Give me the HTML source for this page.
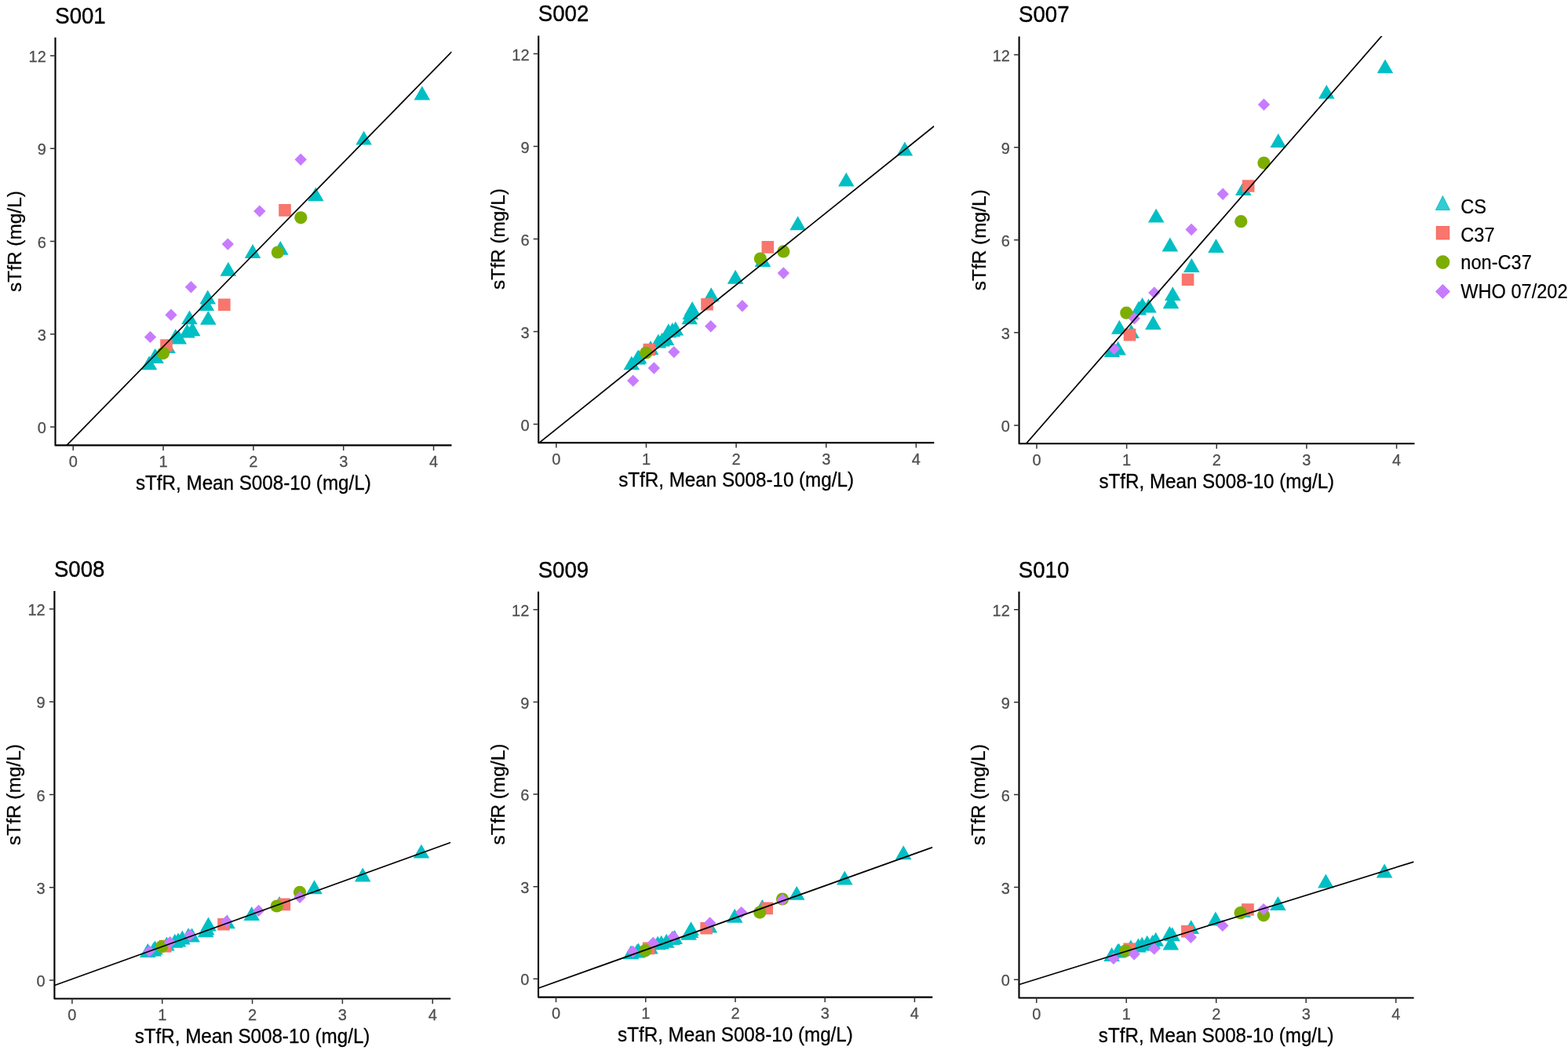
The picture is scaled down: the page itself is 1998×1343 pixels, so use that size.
<!DOCTYPE html>
<html><head><meta charset="utf-8"><title>sTfR comparison</title>
<style>html,body{margin:0;padding:0;background:#fff;}svg{display:block;}text{font-family:'Liberation Sans', Arial, Helvetica, sans-serif;}</style></head><body>
<svg width="1998" height="1343" viewBox="0 0 1998 1343">
<rect x="0" y="0" width="1998" height="1343" fill="#ffffff"/>
<g id="panel-S001">
<defs><clipPath id="clip0"><rect x="70.23" y="47.35" width="505.25" height="520.41"/></clipPath></defs>
<g clip-path="url(#clip0)">
<path fill="#00BFC4" d="M190 453.4L200.3 471.3L179.7 471.3ZM197.5 444.1L207.8 462L187.2 462ZM198.6 445.1L208.9 463L188.3 463ZM213.5 432.1L223.8 450L203.2 450ZM223.7 419.1L234 437L213.4 437ZM227.7 420.5L238 438.4L217.4 438.4ZM238.5 412.6L248.8 430.5L228.2 430.5ZM241.4 395.4L251.7 413.3L231.1 413.3ZM245.2 410.3L255.5 428.2L234.9 428.2ZM262.8 378L273.1 395.9L252.5 395.9ZM264.7 369.6L275 387.5L254.4 387.5ZM265.3 395.9L275.6 413.8L255 413.8ZM290.8 333.8L301.1 351.7L280.5 351.7ZM322 311L332.3 328.9L311.7 328.9ZM357.3 306.9L367.6 324.8L347 324.8ZM402.3 238.4L412.6 256.3L392 256.3ZM463.6 166.7L473.9 184.6L453.3 184.6ZM537.8 109.6L548.1 127.5L527.5 127.5Z"/>
<path fill="#F8766D" d="M204.2 432.2h15.6v15.6h-15.6ZM278 380.4h15.6v15.6h-15.6ZM355.2 260.1h15.6v15.6h-15.6Z"/>
<circle cx="208" cy="450.1" r="8.1" fill="#7CAE00"/>
<circle cx="353.8" cy="321.5" r="8.1" fill="#7CAE00"/>
<circle cx="383.3" cy="277.3" r="8.1" fill="#7CAE00"/>
<path fill="#C77CFF" d="M191.5 421.7L199.2 429.4L191.5 437.1L183.8 429.4ZM218 393.6L225.7 401.3L218 409L210.3 401.3ZM243.4 358.1L251.1 365.8L243.4 373.5L235.7 365.8ZM290.3 303.4L298 311.1L290.3 318.8L282.6 311.1ZM330.8 261.4L338.5 269.1L330.8 276.8L323.1 269.1ZM383.2 195.5L390.9 203.2L383.2 210.9L375.5 203.2Z"/>
<line x1="70.23" y1="582.48" x2="575.49" y2="66.06" stroke="#000" stroke-width="1.7"/>
</g>
<path d="M70.5 47.85V567.4H575.49" fill="none" stroke="#000" stroke-width="2.1" stroke-linecap="butt" stroke-linejoin="round"/>
<path d="M64 544.1H70.5M64 425.83H70.5M64 307.55H70.5M64 189.28H70.5M64 71H70.5M93.2 567.4V573.9M208.03 567.4V573.9M322.86 567.4V573.9M437.69 567.4V573.9M552.52 567.4V573.9" stroke="#333333" stroke-width="1.5" fill="none"/>
<g fill="#4D4D4D" stroke="#4D4D4D" stroke-width="0.25" font-size="20.0">
<text text-anchor="end" transform="translate(58.8 552.2) scale(1 1.04)">0</text>
<text text-anchor="end" transform="translate(58.8 433.93) scale(1 1.04)">3</text>
<text text-anchor="end" transform="translate(58.8 315.65) scale(1 1.04)">6</text>
<text text-anchor="end" transform="translate(58.8 197.38) scale(1 1.04)">9</text>
<text text-anchor="end" transform="translate(58.8 79.1) scale(1 1.04)">12</text>
<text text-anchor="middle" transform="translate(93.2 595.1) scale(1 1.04)">0</text>
<text text-anchor="middle" transform="translate(208.03 595.1) scale(1 1.04)">1</text>
<text text-anchor="middle" transform="translate(322.86 595.1) scale(1 1.04)">2</text>
<text text-anchor="middle" transform="translate(437.69 595.1) scale(1 1.04)">3</text>
<text text-anchor="middle" transform="translate(552.52 595.1) scale(1 1.04)">4</text>
</g>
<text font-size="27.6" fill="#000" stroke="#000" stroke-width="0.35" transform="translate(70.23 29.75) scale(1 1.1)">S001</text>
<text font-size="24.2" fill="#000" stroke="#000" stroke-width="0.3" text-anchor="middle" transform="translate(322.86 623.7) scale(1 1.04)">sTfR, Mean S008-10 (mg/L)</text>
<text font-size="24.4" fill="#000" stroke="#000" stroke-width="0.3" text-anchor="middle" transform="translate(27.4 307.55) rotate(-90) scale(1 1.0)">sTfR (mg/L)</text>
</g>
<g id="panel-S002">
<defs><clipPath id="clip1"><rect x="685.87" y="44.94" width="504.42" height="519.16"/></clipPath></defs>
<g clip-path="url(#clip1)">
<path fill="#00BFC4" d="M804.8 453.4L815.1 471.3L794.5 471.3ZM812.4 446.5L822.7 464.4L802.1 464.4ZM814 445.4L824.3 463.3L803.7 463.3ZM829 434L839.3 451.9L818.7 451.9ZM838.8 425.5L849.1 443.4L828.5 443.4ZM843.6 423.7L853.9 441.6L833.3 441.6ZM849 422.2L859.3 440.1L838.7 440.1ZM851.8 412.3L862.1 430.2L841.5 430.2ZM856.8 411L867.1 428.9L846.5 428.9ZM860.8 409.6L871.1 427.5L850.5 427.5ZM878.7 395.4L889 413.3L868.4 413.3ZM879.8 389.1L890.1 407L869.5 407ZM882.1 384.1L892.4 402L871.8 402ZM906.2 366.3L916.5 384.2L895.9 384.2ZM937.1 343.8L947.4 361.7L926.8 361.7ZM971.9 322L982.2 339.9L961.6 339.9ZM1016.6 275.3L1026.9 293.2L1006.3 293.2ZM1078.3 219.7L1088.6 237.6L1068 237.6ZM1152.9 180.6L1163.2 198.5L1142.6 198.5Z"/>
<path fill="#F8766D" d="M819.5 437.7h15.6v15.6h-15.6ZM893.2 379.9h15.6v15.6h-15.6ZM970.5 307.1h15.6v15.6h-15.6Z"/>
<circle cx="823.2" cy="449.5" r="8.1" fill="#7CAE00"/>
<circle cx="968.8" cy="329.6" r="8.1" fill="#7CAE00"/>
<circle cx="998.3" cy="320.4" r="8.1" fill="#7CAE00"/>
<path fill="#C77CFF" d="M806.7 477.4L814.4 485.1L806.7 492.8L799 485.1ZM833.3 461.3L841 469L833.3 476.7L825.6 469ZM858.8 440.9L866.5 448.6L858.8 456.3L851.1 448.6ZM905.7 408.1L913.4 415.8L905.7 423.5L898 415.8ZM945.9 382L953.6 389.7L945.9 397.4L938.2 389.7ZM998.3 340.3L1006 348L998.3 355.7L990.6 348Z"/>
<line x1="685.87" y1="565.18" x2="1190.29" y2="160.75" stroke="#000" stroke-width="1.7"/>
</g>
<path d="M686.2 45.44V564.1H1190.29" fill="none" stroke="#000" stroke-width="2.1" stroke-linecap="butt" stroke-linejoin="round"/>
<path d="M679.7 540.5H686.2M679.7 422.51H686.2M679.7 304.52H686.2M679.7 186.53H686.2M679.7 68.54H686.2M708.8 564.1V570.6M823.44 564.1V570.6M938.08 564.1V570.6M1052.72 564.1V570.6M1167.36 564.1V570.6" stroke="#333333" stroke-width="1.5" fill="none"/>
<g fill="#4D4D4D" stroke="#4D4D4D" stroke-width="0.25" font-size="20.0">
<text text-anchor="end" transform="translate(674.5 548.6) scale(1 1.04)">0</text>
<text text-anchor="end" transform="translate(674.5 430.61) scale(1 1.04)">3</text>
<text text-anchor="end" transform="translate(674.5 312.62) scale(1 1.04)">6</text>
<text text-anchor="end" transform="translate(674.5 194.63) scale(1 1.04)">9</text>
<text text-anchor="end" transform="translate(674.5 76.64) scale(1 1.04)">12</text>
<text text-anchor="middle" transform="translate(708.8 591.8) scale(1 1.04)">0</text>
<text text-anchor="middle" transform="translate(823.44 591.8) scale(1 1.04)">1</text>
<text text-anchor="middle" transform="translate(938.08 591.8) scale(1 1.04)">2</text>
<text text-anchor="middle" transform="translate(1052.72 591.8) scale(1 1.04)">3</text>
<text text-anchor="middle" transform="translate(1167.36 591.8) scale(1 1.04)">4</text>
</g>
<text font-size="27.6" fill="#000" stroke="#000" stroke-width="0.35" transform="translate(685.87 27.34) scale(1 1.1)">S002</text>
<text font-size="24.2" fill="#000" stroke="#000" stroke-width="0.3" text-anchor="middle" transform="translate(938.08 620.4) scale(1 1.04)">sTfR, Mean S008-10 (mg/L)</text>
<text font-size="24.4" fill="#000" stroke="#000" stroke-width="0.3" text-anchor="middle" transform="translate(643.1 304.52) rotate(-90) scale(1 1.0)">sTfR (mg/L)</text>
</g>
<g id="panel-S007">
<defs><clipPath id="clip2"><rect x="1298.07" y="46.09" width="504.42" height="519.42"/></clipPath></defs>
<g clip-path="url(#clip2)">
<path fill="#00BFC4" d="M1416.9 437.1L1427.2 455L1406.6 455ZM1424.6 434.7L1434.9 452.6L1414.3 452.6ZM1426.3 407.8L1436.6 425.7L1416 425.7ZM1441.5 413.2L1451.8 431.1L1431.2 431.1ZM1451 383.5L1461.3 401.4L1440.7 401.4ZM1455.6 378.9L1465.9 396.8L1445.3 396.8ZM1463.5 380.6L1473.8 398.5L1453.2 398.5ZM1469.4 402.1L1479.7 420L1459.1 420ZM1473.2 265.7L1483.5 283.6L1462.9 283.6ZM1490.9 302.5L1501.2 320.4L1480.6 320.4ZM1492 375.3L1502.3 393.2L1481.7 393.2ZM1494.3 365.2L1504.6 383.1L1484 383.1ZM1518.4 329.1L1528.7 347L1508.1 347ZM1549.5 304.2L1559.8 322.1L1539.2 322.1ZM1584.3 231L1594.6 248.9L1574 248.9ZM1628.8 170L1639.1 187.9L1618.5 187.9ZM1690.3 107.9L1700.6 125.8L1680 125.8ZM1765 75.4L1775.3 93.3L1754.7 93.3Z"/>
<path fill="#F8766D" d="M1431.8 418.8h15.6v15.6h-15.6ZM1505.8 348.4h15.6v15.6h-15.6ZM1582.9 229.2h15.6v15.6h-15.6Z"/>
<circle cx="1435.3" cy="398.7" r="8.1" fill="#7CAE00"/>
<circle cx="1581.3" cy="282.2" r="8.1" fill="#7CAE00"/>
<circle cx="1610.5" cy="207.6" r="8.1" fill="#7CAE00"/>
<path fill="#C77CFF" d="M1419.6 436.5L1427.3 444.2L1419.6 451.9L1411.9 444.2ZM1445.4 398L1453.1 405.7L1445.4 413.4L1437.7 405.7ZM1470.8 365.2L1478.5 372.9L1470.8 380.6L1463.1 372.9ZM1518.1 284.8L1525.8 292.5L1518.1 300.2L1510.4 292.5ZM1558.2 239.6L1565.9 247.3L1558.2 255L1550.5 247.3ZM1610.5 125.5L1618.2 133.2L1610.5 140.9L1602.8 133.2Z"/>
<line x1="1298.07" y1="576.17" x2="1802.49" y2="-2.11" stroke="#000" stroke-width="1.7"/>
</g>
<path d="M1298.6 46.59V565.3H1802.49" fill="none" stroke="#000" stroke-width="2.1" stroke-linecap="butt" stroke-linejoin="round"/>
<path d="M1292.1 541.9H1298.6M1292.1 423.85H1298.6M1292.1 305.8H1298.6M1292.1 187.75H1298.6M1292.1 69.7H1298.6M1321 565.3V571.8M1435.64 565.3V571.8M1550.28 565.3V571.8M1664.92 565.3V571.8M1779.56 565.3V571.8" stroke="#333333" stroke-width="1.5" fill="none"/>
<g fill="#4D4D4D" stroke="#4D4D4D" stroke-width="0.25" font-size="20.0">
<text text-anchor="end" transform="translate(1286.9 550) scale(1 1.04)">0</text>
<text text-anchor="end" transform="translate(1286.9 431.95) scale(1 1.04)">3</text>
<text text-anchor="end" transform="translate(1286.9 313.9) scale(1 1.04)">6</text>
<text text-anchor="end" transform="translate(1286.9 195.85) scale(1 1.04)">9</text>
<text text-anchor="end" transform="translate(1286.9 77.8) scale(1 1.04)">12</text>
<text text-anchor="middle" transform="translate(1321 593) scale(1 1.04)">0</text>
<text text-anchor="middle" transform="translate(1435.64 593) scale(1 1.04)">1</text>
<text text-anchor="middle" transform="translate(1550.28 593) scale(1 1.04)">2</text>
<text text-anchor="middle" transform="translate(1664.92 593) scale(1 1.04)">3</text>
<text text-anchor="middle" transform="translate(1779.56 593) scale(1 1.04)">4</text>
</g>
<text font-size="27.6" fill="#000" stroke="#000" stroke-width="0.35" transform="translate(1298.07 28.49) scale(1 1.1)">S007</text>
<text font-size="24.2" fill="#000" stroke="#000" stroke-width="0.3" text-anchor="middle" transform="translate(1550.28 621.6) scale(1 1.04)">sTfR, Mean S008-10 (mg/L)</text>
<text font-size="24.4" fill="#000" stroke="#000" stroke-width="0.3" text-anchor="middle" transform="translate(1255.5 305.8) rotate(-90) scale(1 1.0)">sTfR (mg/L)</text>
</g>
<g id="panel-S008">
<defs><clipPath id="clip3"><rect x="68.93" y="752.43" width="505.25" height="520.21"/></clipPath></defs>
<g clip-path="url(#clip3)">
<path fill="#00BFC4" d="M188.3 1202.1L198.6 1220L178 1220ZM195.7 1200.6L206 1218.5L185.4 1218.5ZM197.5 1198.6L207.8 1216.5L187.2 1216.5ZM212.4 1193.6L222.7 1211.5L202.1 1211.5ZM222.8 1189.8L233.1 1207.7L212.5 1207.7ZM227 1188.5L237.3 1206.4L216.7 1206.4ZM232.3 1185.6L242.6 1203.5L222 1203.5ZM240.1 1182.3L250.4 1200.2L229.8 1200.2ZM244.6 1182.6L254.9 1200.5L234.3 1200.5ZM262.1 1176.3L272.4 1194.2L251.8 1194.2ZM263.2 1173.7L273.5 1191.6L252.9 1191.6ZM265.5 1168.6L275.8 1186.5L255.2 1186.5ZM289.5 1165.4L299.8 1183.3L279.2 1183.3ZM320.7 1155.1L331 1173L310.4 1173ZM356 1142.1L366.3 1160L345.7 1160ZM400.5 1121.3L410.8 1139.2L390.2 1139.2ZM462.2 1105.5L472.5 1123.4L451.9 1123.4ZM536.9 1075.7L547.2 1093.6L526.6 1093.6Z"/>
<path fill="#F8766D" d="M202.9 1197.8h15.6v15.6h-15.6ZM277.2 1170h15.6v15.6h-15.6ZM354.5 1144.6h15.6v15.6h-15.6Z"/>
<circle cx="206.2" cy="1206" r="8.1" fill="#7CAE00"/>
<circle cx="352.7" cy="1154.5" r="8.1" fill="#7CAE00"/>
<circle cx="382" cy="1136.9" r="8.1" fill="#7CAE00"/>
<path fill="#C77CFF" d="M190.3 1204.4L198 1212.1L190.3 1219.8L182.6 1212.1ZM216.6 1193L224.3 1200.7L216.6 1208.4L208.9 1200.7ZM242 1183.9L249.7 1191.6L242 1199.3L234.3 1191.6ZM288.5 1166.4L296.2 1174.1L288.5 1181.8L280.8 1174.1ZM329.5 1152.7L337.2 1160.4L329.5 1168.1L321.8 1160.4ZM382 1135.5L389.7 1143.2L382 1150.9L374.3 1143.2Z"/>
<line x1="68.93" y1="1255.79" x2="574.19" y2="1073.54" stroke="#000" stroke-width="1.7"/>
</g>
<path d="M69.4 752.93V1272.5H574.19" fill="none" stroke="#000" stroke-width="2.1" stroke-linecap="butt" stroke-linejoin="round"/>
<path d="M62.9 1249H69.4M62.9 1130.77H69.4M62.9 1012.54H69.4M62.9 894.31H69.4M62.9 776.08H69.4M91.9 1272.5V1279M206.73 1272.5V1279M321.56 1272.5V1279M436.39 1272.5V1279M551.22 1272.5V1279" stroke="#333333" stroke-width="1.5" fill="none"/>
<g fill="#4D4D4D" stroke="#4D4D4D" stroke-width="0.25" font-size="20.0">
<text text-anchor="end" transform="translate(57.7 1257.1) scale(1 1.04)">0</text>
<text text-anchor="end" transform="translate(57.7 1138.87) scale(1 1.04)">3</text>
<text text-anchor="end" transform="translate(57.7 1020.64) scale(1 1.04)">6</text>
<text text-anchor="end" transform="translate(57.7 902.41) scale(1 1.04)">9</text>
<text text-anchor="end" transform="translate(57.7 784.18) scale(1 1.04)">12</text>
<text text-anchor="middle" transform="translate(91.9 1300.2) scale(1 1.04)">0</text>
<text text-anchor="middle" transform="translate(206.73 1300.2) scale(1 1.04)">1</text>
<text text-anchor="middle" transform="translate(321.56 1300.2) scale(1 1.04)">2</text>
<text text-anchor="middle" transform="translate(436.39 1300.2) scale(1 1.04)">3</text>
<text text-anchor="middle" transform="translate(551.22 1300.2) scale(1 1.04)">4</text>
</g>
<text font-size="27.6" fill="#000" stroke="#000" stroke-width="0.35" transform="translate(68.93 734.83) scale(1 1.1)">S008</text>
<text font-size="24.2" fill="#000" stroke="#000" stroke-width="0.3" text-anchor="middle" transform="translate(321.56 1328.8) scale(1 1.04)">sTfR, Mean S008-10 (mg/L)</text>
<text font-size="24.4" fill="#000" stroke="#000" stroke-width="0.3" text-anchor="middle" transform="translate(26.3 1012.54) rotate(-90) scale(1 1.0)">sTfR (mg/L)</text>
</g>
<g id="panel-S009">
<defs><clipPath id="clip4"><rect x="685.65" y="753.25" width="502.61" height="517.57"/></clipPath></defs>
<g clip-path="url(#clip4)">
<path fill="#00BFC4" d="M804 1204.4L814.3 1222.3L793.7 1222.3ZM811.8 1202.5L822.1 1220.4L801.5 1220.4ZM813.5 1201.6L823.8 1219.5L803.2 1219.5ZM828.4 1197.6L838.7 1215.5L818.1 1215.5ZM838.1 1192.4L848.4 1210.3L827.8 1210.3ZM842.7 1191.7L853 1209.6L832.4 1209.6ZM849.2 1189.8L859.5 1207.7L838.9 1207.7ZM856.4 1186.2L866.7 1204.1L846.1 1204.1ZM859.6 1185.1L869.9 1203L849.3 1203ZM877.5 1179.9L887.8 1197.8L867.2 1197.8ZM880 1177L890.3 1194.9L869.7 1194.9ZM880.5 1174.2L890.8 1192.1L870.2 1192.1ZM903.8 1170.5L914.1 1188.4L893.5 1188.4ZM936.2 1157.8L946.5 1175.7L925.9 1175.7ZM971.3 1146L981.6 1163.9L961 1163.9ZM1015.2 1128.9L1025.5 1146.8L1004.9 1146.8ZM1076.3 1109.6L1086.6 1127.5L1066 1127.5ZM1151.2 1077.3L1161.5 1095.2L1140.9 1095.2Z"/>
<path fill="#F8766D" d="M818.8 1200.6h15.6v15.6h-15.6ZM892.3 1174.9h15.6v15.6h-15.6ZM969.4 1149.6h15.6v15.6h-15.6Z"/>
<circle cx="822.2" cy="1211.2" r="8.1" fill="#7CAE00"/>
<circle cx="968.2" cy="1162.6" r="8.1" fill="#7CAE00"/>
<circle cx="997" cy="1145.5" r="8.1" fill="#7CAE00"/>
<path fill="#C77CFF" d="M806.3 1204.8L814 1212.5L806.3 1220.2L798.6 1212.5ZM832.3 1193.7L840 1201.4L832.3 1209.1L824.6 1201.4ZM858 1185.9L865.7 1193.6L858 1201.3L850.3 1193.6ZM904.6 1168.3L912.3 1176L904.6 1183.7L896.9 1176ZM944.7 1154.9L952.4 1162.6L944.7 1170.3L937 1162.6ZM997 1138.7L1004.7 1146.4L997 1154.1L989.3 1146.4Z"/>
<line x1="685.65" y1="1259.27" x2="1188.27" y2="1079.67" stroke="#000" stroke-width="1.7"/>
</g>
<path d="M686 753.75V1270.6H1188.27" fill="none" stroke="#000" stroke-width="2.1" stroke-linecap="butt" stroke-linejoin="round"/>
<path d="M679.5 1247.3H686M679.5 1129.67H686M679.5 1012.04H686M679.5 894.41H686M679.5 776.78H686M708.5 1270.6V1277.1M822.73 1270.6V1277.1M936.96 1270.6V1277.1M1051.19 1270.6V1277.1M1165.42 1270.6V1277.1" stroke="#333333" stroke-width="1.5" fill="none"/>
<g fill="#4D4D4D" stroke="#4D4D4D" stroke-width="0.25" font-size="20.0">
<text text-anchor="end" transform="translate(674.3 1255.4) scale(1 1.04)">0</text>
<text text-anchor="end" transform="translate(674.3 1137.77) scale(1 1.04)">3</text>
<text text-anchor="end" transform="translate(674.3 1020.14) scale(1 1.04)">6</text>
<text text-anchor="end" transform="translate(674.3 902.51) scale(1 1.04)">9</text>
<text text-anchor="end" transform="translate(674.3 784.88) scale(1 1.04)">12</text>
<text text-anchor="middle" transform="translate(708.5 1298.3) scale(1 1.04)">0</text>
<text text-anchor="middle" transform="translate(822.73 1298.3) scale(1 1.04)">1</text>
<text text-anchor="middle" transform="translate(936.96 1298.3) scale(1 1.04)">2</text>
<text text-anchor="middle" transform="translate(1051.19 1298.3) scale(1 1.04)">3</text>
<text text-anchor="middle" transform="translate(1165.42 1298.3) scale(1 1.04)">4</text>
</g>
<text font-size="27.6" fill="#000" stroke="#000" stroke-width="0.35" transform="translate(685.65 735.65) scale(1 1.1)">S009</text>
<text font-size="24.2" fill="#000" stroke="#000" stroke-width="0.3" text-anchor="middle" transform="translate(936.96 1326.9) scale(1 1.04)">sTfR, Mean S008-10 (mg/L)</text>
<text font-size="24.4" fill="#000" stroke="#000" stroke-width="0.3" text-anchor="middle" transform="translate(642.9 1012.04) rotate(-90) scale(1 1.0)">sTfR (mg/L)</text>
</g>
<g id="panel-S010">
<defs><clipPath id="clip5"><rect x="1297.85" y="753.25" width="503.76" height="518.63"/></clipPath></defs>
<g clip-path="url(#clip5)">
<path fill="#00BFC4" d="M1416.6 1207L1426.9 1224.9L1406.3 1224.9ZM1424.2 1202.6L1434.5 1220.5L1413.9 1220.5ZM1425.7 1201.8L1436 1219.7L1415.4 1219.7ZM1440.9 1197.6L1451.2 1215.5L1430.6 1215.5ZM1450.4 1195.6L1460.7 1213.5L1440.1 1213.5ZM1455.2 1193.7L1465.5 1211.6L1444.9 1211.6ZM1461.8 1191.7L1472.1 1209.6L1451.5 1209.6ZM1468.6 1191.1L1478.9 1209L1458.3 1209ZM1472.7 1187.8L1483 1205.7L1462.4 1205.7ZM1490.4 1180L1500.7 1197.9L1480.1 1197.9ZM1491.9 1192.6L1502.2 1210.5L1481.6 1210.5ZM1493.7 1181.3L1504 1199.2L1483.4 1199.2ZM1517.8 1172.2L1528.1 1190.1L1507.5 1190.1ZM1548.9 1161.5L1559.2 1179.4L1538.6 1179.4ZM1583.7 1151.1L1594 1169L1573.4 1169ZM1628.4 1142.1L1638.7 1160L1618.1 1160ZM1689.4 1113.5L1699.7 1131.4L1679.1 1131.4ZM1764.1 1100.6L1774.4 1118.5L1753.8 1118.5Z"/>
<path fill="#F8766D" d="M1431.4 1201.4h15.6v15.6h-15.6ZM1505.1 1179h15.6v15.6h-15.6ZM1582.2 1151.2h15.6v15.6h-15.6Z"/>
<circle cx="1434.2" cy="1211.5" r="8.1" fill="#7CAE00"/>
<circle cx="1580.6" cy="1163.2" r="8.1" fill="#7CAE00"/>
<circle cx="1610.1" cy="1166.3" r="8.1" fill="#7CAE00"/>
<path fill="#C77CFF" d="M1418.9 1213.5L1426.6 1221.2L1418.9 1228.9L1411.2 1221.2ZM1445.2 1208L1452.9 1215.7L1445.2 1223.4L1437.5 1215.7ZM1470.6 1201.2L1478.3 1208.9L1470.6 1216.6L1462.9 1208.9ZM1517.4 1186.5L1525.1 1194.2L1517.4 1201.9L1509.7 1194.2ZM1557.9 1171.7L1565.6 1179.4L1557.9 1187.1L1550.2 1179.4ZM1610.1 1150.9L1617.8 1158.6L1610.1 1166.3L1602.4 1158.6Z"/>
<line x1="1297.85" y1="1254.75" x2="1801.61" y2="1098.13" stroke="#000" stroke-width="1.7"/>
</g>
<path d="M1298.5 753.75V1271.5H1801.61" fill="none" stroke="#000" stroke-width="2.1" stroke-linecap="butt" stroke-linejoin="round"/>
<path d="M1292 1248.3H1298.5M1292 1130.43H1298.5M1292 1012.56H1298.5M1292 894.69H1298.5M1292 776.82H1298.5M1320.75 1271.5V1278M1435.24 1271.5V1278M1549.73 1271.5V1278M1664.22 1271.5V1278M1778.71 1271.5V1278" stroke="#333333" stroke-width="1.5" fill="none"/>
<g fill="#4D4D4D" stroke="#4D4D4D" stroke-width="0.25" font-size="20.0">
<text text-anchor="end" transform="translate(1286.8 1256.4) scale(1 1.04)">0</text>
<text text-anchor="end" transform="translate(1286.8 1138.53) scale(1 1.04)">3</text>
<text text-anchor="end" transform="translate(1286.8 1020.66) scale(1 1.04)">6</text>
<text text-anchor="end" transform="translate(1286.8 902.79) scale(1 1.04)">9</text>
<text text-anchor="end" transform="translate(1286.8 784.92) scale(1 1.04)">12</text>
<text text-anchor="middle" transform="translate(1320.75 1299.2) scale(1 1.04)">0</text>
<text text-anchor="middle" transform="translate(1435.24 1299.2) scale(1 1.04)">1</text>
<text text-anchor="middle" transform="translate(1549.73 1299.2) scale(1 1.04)">2</text>
<text text-anchor="middle" transform="translate(1664.22 1299.2) scale(1 1.04)">3</text>
<text text-anchor="middle" transform="translate(1778.71 1299.2) scale(1 1.04)">4</text>
</g>
<text font-size="27.6" fill="#000" stroke="#000" stroke-width="0.35" transform="translate(1297.85 735.65) scale(1 1.1)">S010</text>
<text font-size="24.2" fill="#000" stroke="#000" stroke-width="0.3" text-anchor="middle" transform="translate(1549.73 1327.8) scale(1 1.04)">sTfR, Mean S008-10 (mg/L)</text>
<text font-size="24.4" fill="#000" stroke="#000" stroke-width="0.3" text-anchor="middle" transform="translate(1255.4 1012.56) rotate(-90) scale(1 1.0)">sTfR (mg/L)</text>
</g>
<g id="legend">
<path d="M1838.4 249.6L1847.4 267.6L1829.4 267.6Z" fill="#00BFC4" fill-opacity="0.8" stroke="#00BFC4" stroke-width="0.9"/>
<rect x="1830.2" y="288.4" width="16.6" height="16.6" fill="#F8766D" stroke="#F4584C" stroke-width="0.8"/>
<circle cx="1838.5" cy="334.05" r="8.4" fill="#7CAE00" stroke="#6FA200" stroke-width="0.8"/>
<path d="M1838.4 362.5L1847.3 371.4L1838.4 380.3L1829.5 371.4Z" fill="#C77CFF" stroke="#BB5CFF" stroke-width="0.8"/>
<g font-size="23.6" fill="#000" stroke="#000" stroke-width="0.2">
<text transform="translate(1861.3 271.8) scale(1 1.06)">CS</text>
<text transform="translate(1861.3 308.1) scale(1 1.06)">C37</text>
<text transform="translate(1861.3 342.8) scale(1 1.06)">non-C37</text>
<text transform="translate(1861.3 380.2) scale(1 1.06)">WHO 07/202</text>
</g></g>
</svg></body></html>
